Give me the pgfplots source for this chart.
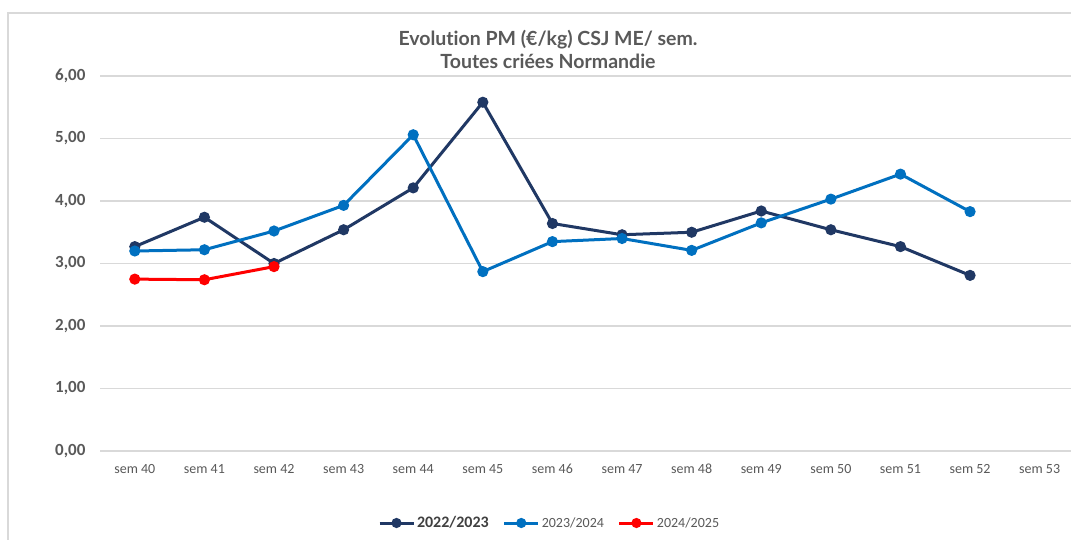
\documentclass[border=0pt]{standalone}
\usepackage{pgfplots}
\pgfplotsset{compat=1.18}
\usepackage{fontspec}
\setmainfont{Carlito}
\newfontfamily\titlefont[Ligatures=NoCommon,RawFeature={-liga;-dlig}]{Lato}
\definecolor{navy}{HTML}{203864}
\definecolor{cblue}{HTML}{0070C0}
\definecolor{cred}{HTML}{FF0000}
\definecolor{txtgray}{HTML}{595959}
\definecolor{gridgray}{HTML}{D9D9D9}
\begin{document}
\begin{tikzpicture}[x=1pt,y=1pt]
\useasboundingbox (0,0) rectangle (1071,539);
\fill[white] (0,0) rectangle (1071,539);
\draw[gridgray,line width=1.5pt] (8,-5) -- (8,526) -- (1080,526);
\node[text=txtgray,align=center,font=\titlefont\bfseries\fontsize{19.5}{23}\selectfont] at (548,490) {Evolution PM (€/kg) CSJ ME/ sem.\\Toutes criées Normandie};
\begin{axis}[
  at={(100pt,88pt)}, anchor=south west,
  scale only axis, width=971pt, height=375pt,
  xmin=-0.5, xmax=13.45, ymin=0, ymax=6,
  xtick={0,...,13},
  xticklabels={sem 40,sem 41,sem 42,sem 43,sem 44,sem 45,sem 46,sem 47,sem 48,sem 49,sem 50,sem 51,sem 52,sem 53},
  ytick={0,1,2,3,4,5,6},
  yticklabels={{0,00},{1,00},{2,00},{3,00},{4,00},{5,00},{6,00}},
  axis line style={draw=none},
  major tick length=0pt,
  ymajorgrids, grid style={gridgray,line width=1.2pt},
  xticklabel style={font=\fontsize{14}{16}\selectfont,text=txtgray,yshift=-9pt,text height=10pt,text depth=3pt},
  yticklabel style={font=\bfseries\fontsize{17}{19}\selectfont,text=txtgray,xshift=-11pt},
  clip=false,
  legend columns=3,
  legend style={draw=none,fill=none,at={(0.463,-0.192)},anchor=center,
    font=\fontsize{14}{16}\selectfont,text=txtgray,
    /tikz/every even column/.append style={column sep=12pt}},
  legend image code/.code={\draw[mark repeat=2,mark phase=2,#1,mark size=3.5pt] plot coordinates {(0pt,0pt)(17pt,0pt)(34pt,0pt)};},
]
\addplot[navy,line width=3pt,mark=*,mark size=4pt,mark options={solid}] coordinates {
(0,3.27)(1,3.74)(2,3.00)(3,3.54)(4,4.21)(5,5.58)(6,3.64)(7,3.46)(8,3.50)(9,3.84)(10,3.54)(11,3.27)(12,2.81)};
\addlegendentry{\fontsize{16}{18}\selectfont\bfseries\color{black!75}2022/2023}
\addplot[cblue,line width=3pt,mark=*,mark size=4pt,mark options={solid}] coordinates {
(0,3.20)(1,3.22)(2,3.52)(3,3.93)(4,5.06)(5,2.87)(6,3.35)(7,3.40)(8,3.21)(9,3.65)(10,4.03)(11,4.43)(12,3.83)};
\addlegendentry{2023/2024}
\addplot[cred,line width=3pt,mark=*,mark size=4pt,mark options={solid}] coordinates {
(0,2.75)(1,2.74)(2,2.95)};
\addlegendentry{2024/2025}
\end{axis}
\end{tikzpicture}
\end{document}
